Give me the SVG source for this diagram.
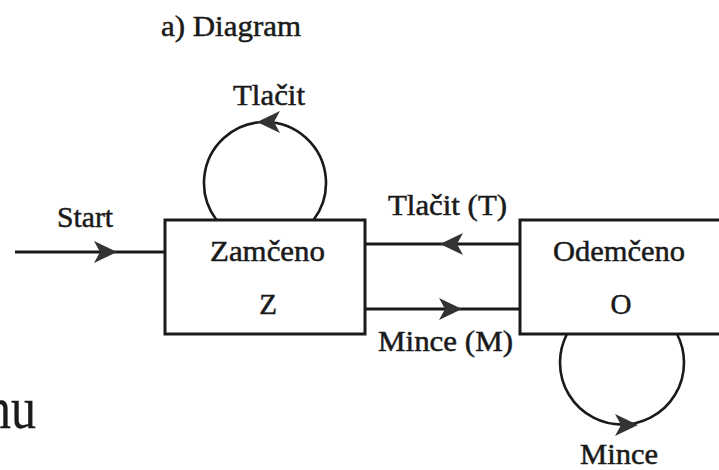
<svg xmlns="http://www.w3.org/2000/svg" width="719" height="470" viewBox="0 0 719 470" font-family="'Liberation Serif', LiberationSerif, Tinos, 'Nimbus Roman', 'Times New Roman', Times, 'DejaVu Serif', serif">
<style>
.box{fill:#fff;stroke:#1a1a1a;stroke-width:3}
.ln{fill:none;stroke:#1a1a1a;stroke-width:3}
.loop{fill:none;stroke:#1a1a1a;stroke-width:2.6}
.ah{fill:#333;stroke:none}
.t{font-family:'Liberation Serif', LiberationSerif, Tinos, 'Nimbus Roman', 'Times New Roman', Times, 'DejaVu Serif', serif;font-size:29px;fill:#1a1a1a;stroke:#1a1a1a;stroke-width:0.5}
.big{font-size:60px;stroke-width:0.3}
</style>
<defs>
<path id="arrow" d="M0,0 L-23,-11 L-17,0 L-23,11 Z"/>
</defs>
<rect width="719" height="470" fill="#fff"/>
<text class="t" x="161" y="36" textLength="140" lengthAdjust="spacingAndGlyphs">a) Diagram</text>
<text class="t big" x="-14" y="428" textLength="50" lengthAdjust="spacingAndGlyphs">nu</text>
<g id="connectors">
<path class="ln" d="M15,252 H165"/>
<use href="#arrow" class="ah" transform="translate(117,252)"/>
<text class="t" x="57" y="227" textLength="56" lengthAdjust="spacingAndGlyphs">Start</text>
<path class="ln" d="M520,244 H365"/>
<use href="#arrow" class="ah" transform="translate(440,244) rotate(180)"/>
<text class="t" x="388" y="215" textLength="119" lengthAdjust="spacingAndGlyphs">Tlačit (T)</text>
<path class="ln" d="M365,309 H520"/>
<use href="#arrow" class="ah" transform="translate(462,309)"/>
<text class="t" x="378" y="351" textLength="135" lengthAdjust="spacingAndGlyphs">Mince (M)</text>
<path class="loop" d="M216.5,220 A61,61 0 1 1 313.5,220"/>
<use href="#arrow" class="ah" transform="translate(257,122) rotate(180)"/>
<text class="t" x="233" y="105" textLength="72" lengthAdjust="spacingAndGlyphs">Tlačit</text>
<path class="loop" d="M567,334 A62,62 0 1 0 677,334"/>
<use href="#arrow" class="ah" transform="translate(638,425)"/>
<text class="t" x="580" y="464" textLength="78" lengthAdjust="spacingAndGlyphs">Mince</text>
</g>
<g id="node-zamceno">
<rect class="box" x="165" y="220" width="200" height="114"/>
<text class="t" x="210" y="261" textLength="115" lengthAdjust="spacingAndGlyphs">Zamčeno</text>
<text class="t" x="268" y="314" text-anchor="middle">Z</text>
</g>
<g id="node-odemceno">
<rect class="box" x="520" y="220" width="210" height="114"/>
<text class="t" x="553" y="261" textLength="132" lengthAdjust="spacingAndGlyphs">Odemčeno</text>
<text class="t" x="621" y="314" text-anchor="middle">O</text>
</g>
</svg>
